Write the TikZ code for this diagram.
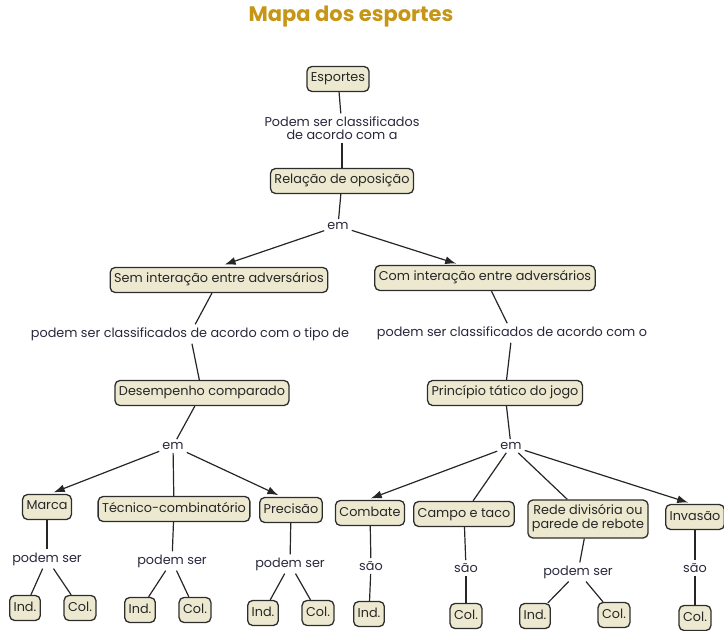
\documentclass[tikz,border=0pt]{standalone}
\usepackage{fontspec}
\setmainfont{Poppins}
\usetikzlibrary{arrows.meta}
\definecolor{boxfill}{RGB}{237,233,208}
\definecolor{boxdraw}{RGB}{45,45,45}
\definecolor{titlecol}{RGB}{198,150,22}
\definecolor{labcol}{RGB}{40,40,60}
\tikzset{
  concept/.style={draw=boxdraw, fill=boxfill, rounded corners=5pt, line width=1.3pt,
    inner xsep=4pt, inner ysep=6.5pt, text height=9pt, text depth=3pt,
    font=\fontsize{12.8}{14}\selectfont, text=black!85, align=center},
  linklab/.style={inner sep=3pt, font=\fontsize{12.8}{14}\selectfont, text=labcol, align=center},
  conn/.style={line width=1.2pt, draw=black!85},
  arr/.style={conn, shorten >=4pt, -{Latex[length=11pt,width=8pt]}}
}
\begin{document}
\begin{tikzpicture}[x=1pt,y=-1pt]
\useasboundingbox (0,0) rectangle (724,631);
\node[font=\fontsize{21}{24}\selectfont\bfseries, text=titlecol] (title) at (351,17) {Mapa dos esportes};

\node[concept] (esp) at (338,79) {Esportes};
\node[linklab, font=\fontsize{12.8}{13}\selectfont] (l1) at (342,128) {Podem ser classificados\\de acordo com a};
\node[concept] (rel) at (342,181) {Relação de oposição};
\node[linklab] (em1) at (338,226) {em};
\node[concept] (sem) at (219,280) {Sem interação entre adversários};
\node[concept] (com) at (485,278) {Com interação entre adversários};
\node[linklab] (l2) at (190,334) {podem ser classificados de acordo com o tipo de};
\node[linklab] (l3) at (512,333) {podem ser classificados de acordo com o};
\node[concept] (des) at (202,393) {Desempenho comparado};
\node[concept] (pri) at (505,393) {Princípio tático do jogo};
\node[linklab] (em2) at (173,446) {em};
\node[linklab] (em3) at (511,446) {em};

\node[concept] (mar) at (47,507) {Marca};
\node[concept] (tec) at (174,509) {Técnico-combinatório};
\node[concept] (pre) at (291,510) {Precisão};
\node[concept] (cmb) at (370,513) {Combate};
\node[concept] (cam) at (464,514) {Campo e taco};
\node[concept, text height=22pt] (red) at (588,519) {Rede divisória ou\\parede de rebote};
\node[concept] (inv) at (695,517) {Invasão};

\node[linklab] (p1) at (47,559) {podem ser};
\node[linklab] (p2) at (172,561) {podem ser};
\node[linklab] (p3) at (290,564) {podem ser};
\node[linklab] (s1) at (371,566) {são};
\node[linklab] (s2) at (466,568) {são};
\node[linklab] (p4) at (578,572) {podem ser};
\node[linklab] (s3) at (695,568) {são};

\node[concept] (i1) at (25,608) {Ind.};
\node[concept] (c1) at (80,608) {Col.};
\node[concept] (i2) at (140,610) {Ind.};
\node[concept] (c2) at (195,610) {Col.};
\node[concept] (i3) at (263,613) {Ind.};
\node[concept] (c3) at (318,613) {Col.};
\node[concept] (i4) at (369,614) {Ind.};
\node[concept] (c5) at (466,616) {Col.};
\node[concept] (i6) at (535,616) {Ind.};
\node[concept] (c6) at (614,615) {Col.};
\node[concept] (c7) at (695,618) {Col.};

\draw[conn] (esp) -- (l1);
\draw[conn] (l1) -- (rel);
\draw[conn] (rel) -- (em1);
\draw[arr, shorten >=7pt] (em1) -- ([xshift=-1pt]sem.north);
\draw[arr] (em1) -- ([xshift=-25pt]com.north);
\draw[conn] (sem) -- (l2);
\draw[conn] (l2) -- (des);
\draw[conn] (com) -- (l3);
\draw[conn] (l3) -- (pri);
\draw[conn] (des) -- (em2);
\draw[conn] (pri) -- (em3);

\draw[arr] (em2) -- ([xshift=3pt]mar.north);
\draw[conn] (em2) -- (tec);
\draw[arr] (em2) -- ([xshift=-9pt]pre.north);
\draw[arr] (em3) -- ([xshift=-3pt]cmb.north);
\draw[conn] (em3) -- (cam);
\draw[conn] (em3) -- (red);
\draw[arr] (em3) -- ([xshift=-3pt]inv.north);

\draw[conn] (mar) -- (p1);
\draw[conn] (tec) -- (p2);
\draw[conn] (pre) -- (p3);
\draw[conn] (cmb) -- (s1);
\draw[conn] (cam) -- (s2);
\draw[conn] (red) -- (p4);
\draw[conn] (inv) -- (s3);

\draw[conn] (p1) -- (i1);
\draw[conn] (p1) -- (c1);
\draw[conn] (p2) -- (i2);
\draw[conn] (p2) -- (c2);
\draw[conn] (p3) -- (i3);
\draw[conn] (p3) -- (c3);
\draw[conn] (s1) -- (i4);
\draw[conn] (s2) -- (c5);
\draw[conn] (p4) -- (i6);
\draw[conn] (p4) -- (c6);
\draw[conn] (s3) -- (c7);
\end{tikzpicture}
\end{document}
